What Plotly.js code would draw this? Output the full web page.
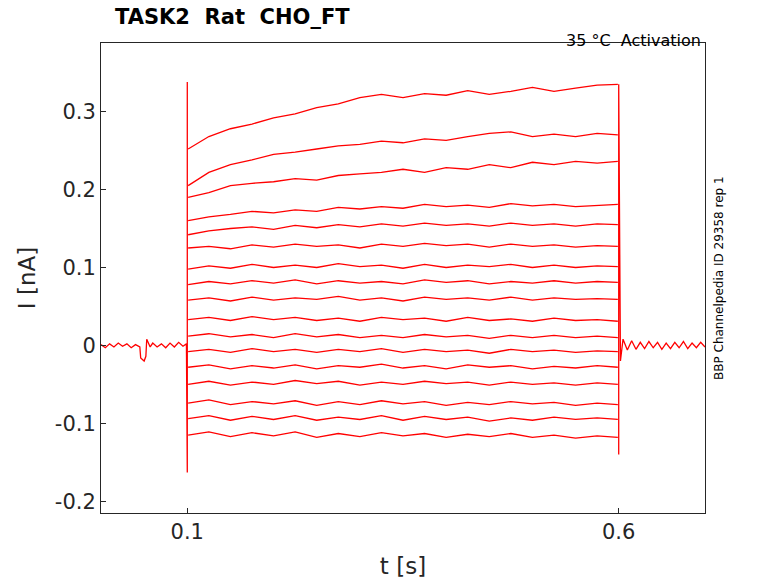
<!DOCTYPE html>
<html><head><script src="https://cdn.plot.ly/plotly-3.0.1.min.js"></script>
<style>body{margin:0}</style></head><body><div id="c" style="width:778px;height:583px"></div>
<script>
const stepTimes=[0.101,0.125,0.15,0.175,0.2,0.225,0.25,0.275,0.3,0.325,0.35,0.375,0.4,0.425,0.45,0.475,0.5,0.525,0.55,0.575,0.599];
const s1=[0.252,0.268,0.278,0.284,0.292,0.297,0.305,0.31,0.318,0.322,0.318,0.323,0.321,0.327,0.322,0.326,0.331,0.326,0.33,0.334,0.335];
const s2=[0.205,0.222,0.232,0.238,0.245,0.248,0.252,0.256,0.258,0.262,0.26,0.265,0.263,0.268,0.272,0.274,0.268,0.271,0.268,0.272,0.27];
const s3=[0.19,0.196,0.205,0.208,0.21,0.214,0.212,0.218,0.22,0.222,0.226,0.222,0.228,0.226,0.232,0.228,0.235,0.232,0.236,0.234,0.236];
const s4=[0.16,0.165,0.168,0.172,0.17,0.174,0.172,0.177,0.175,0.178,0.176,0.181,0.178,0.18,0.177,0.182,0.179,0.181,0.178,0.18,0.181];
const s5=[0.142,0.147,0.15,0.152,0.149,0.154,0.151,0.155,0.152,0.156,0.153,0.157,0.154,0.156,0.153,0.157,0.154,0.156,0.153,0.156,0.155];
const s6=[0.125,0.127,0.124,0.129,0.126,0.13,0.127,0.129,0.125,0.13,0.127,0.131,0.128,0.13,0.126,0.13,0.127,0.129,0.126,0.128,0.127];
const s7=[0.098,0.102,0.099,0.104,0.1,0.103,0.1,0.105,0.101,0.103,0.099,0.104,0.1,0.103,0.101,0.104,0.1,0.103,0.1,0.102,0.101];
const s8=[0.078,0.082,0.079,0.083,0.08,0.084,0.079,0.083,0.08,0.082,0.079,0.084,0.081,0.083,0.079,0.082,0.08,0.083,0.08,0.082,0.081];
const s9=[0.058,0.061,0.057,0.062,0.058,0.061,0.059,0.063,0.058,0.061,0.057,0.062,0.059,0.061,0.058,0.062,0.058,0.061,0.059,0.06,0.059];
const s10=[0.033,0.036,0.032,0.037,0.033,0.036,0.032,0.035,0.031,0.036,0.033,0.035,0.031,0.036,0.032,0.034,0.031,0.035,0.032,0.033,0.031];
const s11=[0.012,0.015,0.011,0.014,0.01,0.015,0.011,0.014,0.01,0.013,0.01,0.014,0.011,0.013,0.009,0.013,0.01,0.013,0.01,0.012,0.01];
const s12=[-0.008,-0.005,-0.009,-0.004,-0.008,-0.005,-0.009,-0.005,-0.008,-0.004,-0.009,-0.005,-0.008,-0.006,-0.01,-0.005,-0.008,-0.006,-0.009,-0.007,-0.008];
const s13=[-0.028,-0.025,-0.03,-0.026,-0.029,-0.025,-0.03,-0.026,-0.028,-0.024,-0.029,-0.026,-0.03,-0.025,-0.028,-0.026,-0.03,-0.027,-0.029,-0.026,-0.028];
const s14=[-0.05,-0.046,-0.051,-0.047,-0.05,-0.045,-0.049,-0.046,-0.051,-0.047,-0.05,-0.046,-0.049,-0.047,-0.051,-0.047,-0.05,-0.048,-0.051,-0.048,-0.05];
const s15=[-0.074,-0.07,-0.076,-0.072,-0.075,-0.071,-0.077,-0.072,-0.076,-0.071,-0.075,-0.072,-0.077,-0.073,-0.076,-0.072,-0.075,-0.073,-0.077,-0.074,-0.076];
const s16=[-0.094,-0.09,-0.096,-0.091,-0.095,-0.09,-0.096,-0.092,-0.095,-0.09,-0.096,-0.091,-0.095,-0.092,-0.097,-0.093,-0.096,-0.092,-0.095,-0.093,-0.095];
const s17=[-0.115,-0.111,-0.117,-0.112,-0.116,-0.111,-0.118,-0.113,-0.117,-0.112,-0.116,-0.113,-0.118,-0.114,-0.117,-0.113,-0.118,-0.115,-0.119,-0.116,-0.118];
const preTimes=[0,0.005,0.01,0.015,0.02,0.025,0.03,0.035,0.04,0.045,0.046,0.05,0.052,0.053,0.057,0.06,0.065,0.07,0.075,0.08,0.085,0.09,0.095,0.099,0.1,0.1];
const preVals=[0.001,-0.003,0.002,-0.002,0.003,-0.001,0.002,-0.003,0.001,-0.002,-0.016,-0.02,-0.014,0.008,-0.002,0.003,-0.002,0.002,-0.003,0.003,-0.002,0.004,-0.001,0.002,-0.163,0.338];
const postTimes=[0.6,0.6,0.602,0.605,0.61,0.615,0.62,0.625,0.63,0.635,0.64,0.645,0.65,0.655,0.66,0.665,0.67,0.675,0.68,0.685,0.69,0.695,0.7];
const postVals=[-0.14,0.335,-0.02,0.008,-0.006,0.006,-0.005,0.004,-0.004,0.005,-0.003,0.004,-0.005,0.003,-0.004,0.004,-0.003,0.005,-0.004,0.003,-0.003,0.004,-0.002];
const series=[s1,s2,s3,s4,s5,s6,s7,s8,s9,s10,s11,s12,s13,s14,s15,s16,s17];
const line={color:'#ff0000',width:1.3};
const data=[{x:preTimes,y:preVals,mode:'lines',line},{x:postTimes,y:postVals,mode:'lines',line}];
series.forEach(s=>data.push({x:stepTimes,y:s,mode:'lines',line}));
const ax={showline:true,mirror:true,linecolor:'#262626',linewidth:1,ticks:'inside',ticklen:5,tickcolor:'#262626',zeroline:false,showgrid:false,tickfont:{family:'DejaVu Sans',size:21,color:'#262626'}};
Plotly.newPlot('c',data,{
 width:778,height:583,showlegend:false,plot_bgcolor:'#fff',paper_bgcolor:'#fff',
 margin:{l:101,r:73,t:43,b:70},
 xaxis:Object.assign({},ax,{range:[0,0.7],tickvals:[0.1,0.6],ticktext:['0.1','0.6'],title:{text:'t [s]',font:{family:'DejaVu Sans',size:23,color:'#262626'},standoff:14}}),
 yaxis:Object.assign({},ax,{range:[-0.215,0.388],tickvals:[-0.2,-0.1,0,0.1,0.2,0.3],ticktext:['-0.2','-0.1','0','0.1','0.2','0.3'],title:{text:'I [nA]',font:{family:'DejaVu Sans',size:23,color:'#262626'},standoff:12}}),
 annotations:[
  {text:'<b>TASK2  Rat  CHO_FT</b>',xref:'paper',yref:'paper',x:0.02,y:1,yshift:12,xanchor:'left',yanchor:'bottom',showarrow:false,font:{family:'DejaVu Sans',size:21,color:'#000'}},
  {text:'35 °C  Activation',xref:'paper',yref:'paper',x:1,y:1,xshift:-2,yshift:14,xanchor:'right',yanchor:'top',showarrow:false,font:{family:'DejaVu Sans',size:16,color:'#000'}},
  {text:'BBP Channelpedia ID 29358 rep 1',xref:'paper',yref:'paper',x:1,xshift:5,y:0.5,yshift:0,textangle:-90,xanchor:'left',yanchor:'middle',showarrow:false,font:{family:'DejaVu Sans',size:12,color:'#000'}}
 ]
},{staticPlot:true});
</script></body></html>
